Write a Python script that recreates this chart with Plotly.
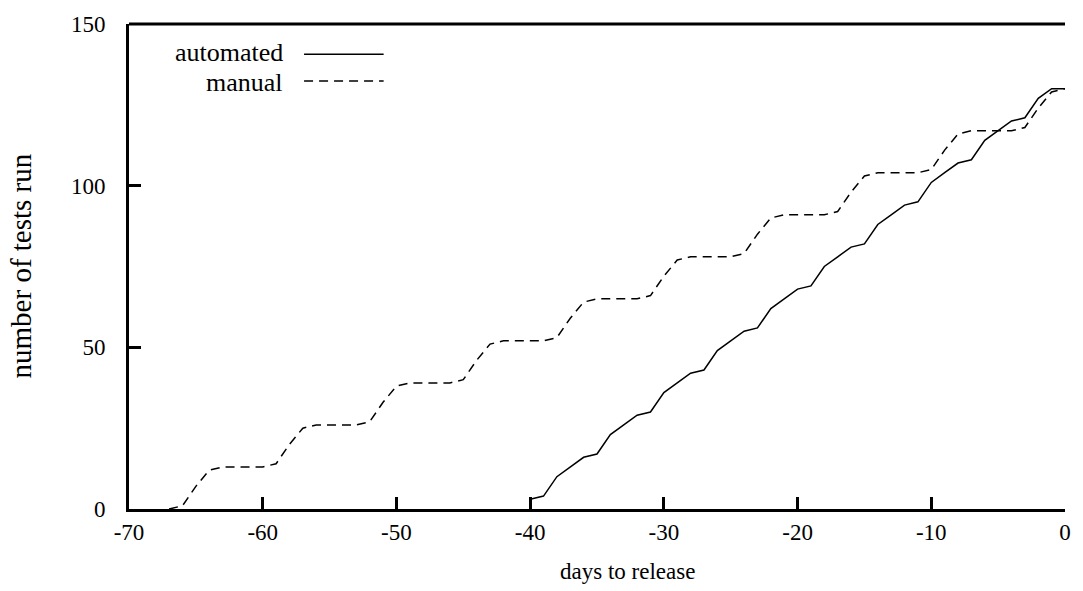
import plotly.graph_objects as go

# ---- data ----
auto_days = list(range(-40, 1))
auto_tests = [3, 4, 10, 13, 16, 17, 23, 26, 29, 30, 36, 39, 42, 43, 49, 52, 55, 56,
              62, 65, 68, 69, 75, 78, 81, 82, 88, 91, 94, 95, 101, 104, 107, 108,
              114, 117, 120, 121, 127, 130, 130]

manual_days = list(range(-67, 1))
manual_tests = [0, 1, 7, 12, 13, 13, 13, 13, 14, 20, 25, 26, 26, 26, 26, 27, 33, 38,
                39, 39, 39, 39, 40, 46, 51, 52, 52, 52, 52, 53, 59, 64, 65, 65, 65,
                65, 66, 72, 77, 78, 78, 78, 78, 79, 85, 90, 91, 91, 91, 91, 92, 98,
                103, 104, 104, 104, 104, 105, 111, 116, 117, 117, 117, 117, 118, 124,
                129, 130]

x_ticks = [-70, -60, -50, -40, -30, -20, -10, 0]
y_ticks = [0, 50, 100, 150]
series_names = ["automated", "manual"]

FONT = "Liberation Serif"
FS = 23

W, H = 1083, 591
L, R, T, B = 129, 1070, 22, 509.3
pw, ph = R - L, B - T


def px(xp):
    return (xp - L) / pw


def py(yp):
    return (B - yp) / ph


fig = go.Figure()
fig.add_trace(go.Scatter(x=auto_days, y=auto_tests, mode="lines", name=series_names[0],
                         line=dict(color="black", width=1.5), showlegend=False))
fig.add_trace(go.Scatter(x=manual_days, y=manual_tests, mode="lines", name=series_names[1],
                         line=dict(color="black", width=1.5, dash="9px,6px"), showlegend=False))

fig.update_layout(
    width=W, height=H,
    margin=dict(l=L, r=W - R, t=T, b=H - B, pad=0),
    plot_bgcolor="white", paper_bgcolor="white",
    font=dict(family=FONT, size=FS, color="black"),
    xaxis=dict(range=[-70, 0], tickvals=x_ticks, ticktext=[str(v) for v in x_ticks],
               showgrid=False, zeroline=False, showline=True, linecolor="black", linewidth=3,
               ticks="inside", ticklen=12, tickwidth=2.5, tickcolor="black",
               ticklabelstandoff=0),
    yaxis=dict(range=[0, 150], tickvals=y_ticks, ticktext=[str(v) for v in y_ticks],
               showgrid=False, zeroline=False, showline=True, linecolor="black", linewidth=3,
               ticks="inside", ticklen=12, tickwidth=2.5, tickcolor="black",
               ticklabelstandoff=16),
)

# top border
fig.add_shape(type="line", xref="paper", yref="paper", x0=0, x1=1, y0=1, y1=1,
              line=dict(color="black", width=3))

# axis titles
fig.add_annotation(text="days to release", xref="paper", yref="paper",
                   x=px(630), y=py(572), xanchor="center", yanchor="middle",
                   showarrow=False, font=dict(family=FONT, size=FS))
fig.add_annotation(text="number of tests run", xref="paper", yref="paper",
                   x=px(20), y=py(265), xanchor="center", yanchor="middle", textangle=-90,
                   showarrow=False, font=dict(family=FONT, size=29))

# legend (gnuplot style: text then sample)
for name, ypix, tpix, dash in [(series_names[0], 52.3, 50.5, "solid"),
                               (series_names[1], 79.3, 80.5, "9px,6px")]:
    fig.add_annotation(text=name, xref="paper", yref="paper", x=px(286), y=py(tpix),
                       xanchor="right", yanchor="middle", showarrow=False,
                       font=dict(family=FONT, size=26))
    fig.add_shape(type="line", xref="paper", yref="paper", x0=px(305), x1=px(385),
                  y0=py(ypix), y1=py(ypix), line=dict(color="black", width=1.5, dash=dash))

fig.write_html("out.html")
